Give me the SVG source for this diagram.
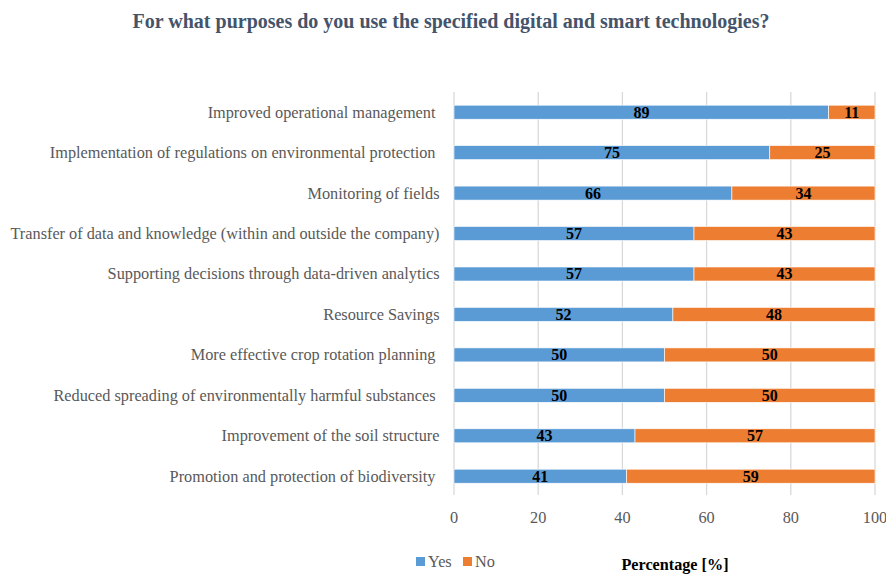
<svg xmlns="http://www.w3.org/2000/svg" width="886" height="574" viewBox="0 0 886 574">
<style>
.title{font-family:"Liberation Serif",serif;font-weight:bold;font-size:20px;fill:#44546A}
.cat{font-family:"Liberation Serif",serif;font-size:16.3px;fill:#595959;text-anchor:end}
.tick{font-family:"Liberation Serif",serif;font-size:16.3px;fill:#595959;text-anchor:middle}
.val{font-family:"Liberation Serif",serif;font-weight:bold;font-size:16px;fill:#000;text-anchor:middle}
.axt{font-family:"Liberation Serif",serif;font-weight:bold;font-size:16.2px;fill:#000;text-anchor:middle}
.leg{font-family:"Liberation Serif",serif;font-size:16.3px;fill:#595959}
.grid{stroke:#D9D9D9;stroke-width:1.3}
.yes{fill:#5B9BD5;stroke:#fff;stroke-width:0.6}
.no{fill:#ED7D31;stroke:#fff;stroke-width:0.6}
</style>
<rect width="886" height="574" fill="#fff"/>
<text class="title" x="451" y="28" text-anchor="middle">For what purposes do you use the specified digital and smart technologies?</text>
<g id="grid">
<line class="grid" x1="454" y1="92" x2="454" y2="495"/>
<line class="grid" x1="538.2" y1="92" x2="538.2" y2="495"/>
<line class="grid" x1="622.4" y1="92" x2="622.4" y2="495"/>
<line class="grid" x1="706.6" y1="92" x2="706.6" y2="495"/>
<line class="grid" x1="790.8" y1="92" x2="790.8" y2="495"/>
<line class="grid" x1="875" y1="92" x2="875" y2="495"/>
</g>
<g id="ticks">
<text class="tick" x="454" y="523">0</text>
<text class="tick" x="538.2" y="523">20</text>
<text class="tick" x="622.4" y="523">40</text>
<text class="tick" x="706.6" y="523">60</text>
<text class="tick" x="790.8" y="523">80</text>
<text class="tick" x="875" y="523">100</text>
</g>
<g id="row1"><text class="cat" x="435.5" y="117.6">Improved operational management</text>
<rect class="yes" x="454" y="105.2" width="374.7" height="14"/><rect class="no" x="828.7" y="105.2" width="46.3" height="14"/>
<text class="val" x="641.4" y="117.6">89</text><text class="val" x="851.8" y="117.6">11</text></g>
<g id="row2"><text class="cat" x="435.5" y="158">Implementation of regulations on environmental protection</text>
<rect class="yes" x="454" y="145.6" width="315.8" height="14"/><rect class="no" x="769.8" y="145.6" width="105.2" height="14"/>
<text class="val" x="611.9" y="158">75</text><text class="val" x="822.4" y="158">25</text></g>
<g id="row3"><text class="cat" x="439.5" y="198.5">Monitoring of fields</text>
<rect class="yes" x="454" y="186.1" width="277.9" height="14"/><rect class="no" x="731.9" y="186.1" width="143.1" height="14"/>
<text class="val" x="592.9" y="198.5">66</text><text class="val" x="803.4" y="198.5">34</text></g>
<g id="row4"><text class="cat" x="439.5" y="238.9" textLength="429" lengthAdjust="spacingAndGlyphs">Transfer of data and knowledge (within and outside the company)</text>
<rect class="yes" x="454" y="226.5" width="240" height="14"/><rect class="no" x="694" y="226.5" width="181" height="14"/>
<text class="val" x="574" y="238.9">57</text><text class="val" x="784.5" y="238.9">43</text></g>
<g id="row5"><text class="cat" x="439.5" y="279.4">Supporting decisions through data-driven analytics</text>
<rect class="yes" x="454" y="267" width="240" height="14"/><rect class="no" x="694" y="267" width="181" height="14"/>
<text class="val" x="574" y="279.4">57</text><text class="val" x="784.5" y="279.4">43</text></g>
<g id="row6"><text class="cat" x="439.5" y="319.8">Resource Savings</text>
<rect class="yes" x="454" y="307.4" width="218.9" height="14"/><rect class="no" x="672.9" y="307.4" width="202.1" height="14"/>
<text class="val" x="563.5" y="319.8">52</text><text class="val" x="774" y="319.8">48</text></g>
<g id="row7"><text class="cat" x="435.5" y="360.3">More effective crop rotation planning</text>
<rect class="yes" x="454" y="347.9" width="210.5" height="14"/><rect class="no" x="664.5" y="347.9" width="210.5" height="14"/>
<text class="val" x="559.3" y="360.3">50</text><text class="val" x="769.8" y="360.3">50</text></g>
<g id="row8"><text class="cat" x="435.5" y="400.7">Reduced spreading of environmentally harmful substances</text>
<rect class="yes" x="454" y="388.3" width="210.5" height="14"/><rect class="no" x="664.5" y="388.3" width="210.5" height="14"/>
<text class="val" x="559.3" y="400.7">50</text><text class="val" x="769.8" y="400.7">50</text></g>
<g id="row9"><text class="cat" x="439.5" y="441.2">Improvement of the soil structure</text>
<rect class="yes" x="454" y="428.8" width="181" height="14"/><rect class="no" x="635" y="428.8" width="240" height="14"/>
<text class="val" x="544.5" y="441.2">43</text><text class="val" x="755" y="441.2">57</text></g>
<g id="row10"><text class="cat" x="435.5" y="481.6">Promotion and protection of biodiversity</text>
<rect class="yes" x="454" y="469.2" width="172.6" height="14"/><rect class="no" x="626.6" y="469.2" width="248.4" height="14"/>
<text class="val" x="540.3" y="481.6">41</text><text class="val" x="750.8" y="481.6">59</text></g>
<g id="legend">
<rect x="416" y="557" width="9" height="9" fill="#5B9BD5"/>
<text class="leg" x="428" y="567">Yes</text>
<rect x="463" y="557" width="9" height="9" fill="#ED7D31"/>
<text class="leg" x="475" y="567">No</text>
</g>
<text class="axt" x="675" y="570">Percentage [%]</text>
</svg>
